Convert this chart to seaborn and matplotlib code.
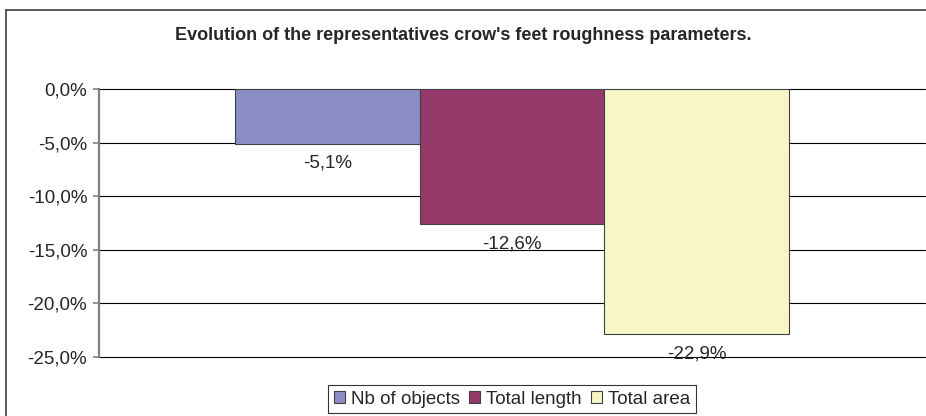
import pandas as pd
import matplotlib.pyplot as plt
import matplotlib.patches as mpatches
from matplotlib.lines import Line2D
from matplotlib.ticker import FuncFormatter
import seaborn as sns

series = ["Nb of objects", "Total length", "Total area"]
values = [-5.1, -12.6, -22.9]
colors = ["#8B8EC5", "#953A6B", "#F8F6C6"]
yticks = [0, -5, -10, -15, -20, -25]

df = pd.DataFrame({"group": [""] * 3, "series": series, "value": values})

sns.set_style("white")
plt.rcParams["font.family"] = ["Liberation Sans", "DejaVu Sans"]

fig = plt.figure(figsize=(9.26, 4.16), dpi=100)
ax = fig.add_axes([99 / 926, 1 - 357 / 416, 826 / 926, 268 / 416])

sns.barplot(data=df, x="group", y="value", hue="series", palette=colors,
            saturation=1, width=0.67, edgecolor="#404040", linewidth=0.8,
            ax=ax, legend=True)

ax.set_ylim(-25, 0)
ax.set_xlim(-0.5, 0.5)
ax.set_yticks(yticks)
ax.yaxis.set_major_formatter(FuncFormatter(lambda v, p: f"{v:.1f}%".replace(".", ",")))
ax.tick_params(axis="y", left=True, right=False, length=4.5, width=1.2, color="#808080",
               labelsize=13.5, pad=4)
ax.set_xlabel("")
ax.set_ylabel("")
ax.set_xticks([])
for yv in yticks:
    ax.axhline(yv, color="black", lw=0.8, zorder=0, clip_on=False)
for s in ["top", "right", "bottom"]:
    ax.spines[s].set_visible(False)
ax.spines["left"].set_color("#808080")
ax.spines["left"].set_linewidth(1.6)
ax.spines["left"].set_zorder(3)

for cont in ax.containers:
    ax.bar_label(cont, labels=[f"{v:.1f}%".replace(".", ",") for v in cont.datavalues],
                 padding=8, fontsize=13.5)

ax.legend_.remove()
handles = [mpatches.Patch(facecolor=c, edgecolor="#404040", lw=0.8) for c in colors]
leg = fig.legend(handles, series, loc="upper center", ncol=3,
                 bbox_to_anchor=(512 / 926, 1 - 385 / 416), fontsize=13.5,
                 frameon=True, fancybox=False, edgecolor="black",
                 handlelength=0.6, handleheight=0.6, handletextpad=0.3,
                 columnspacing=0.5, borderpad=0.3, borderaxespad=0)
leg.get_frame().set_linewidth(0.8)

fig.text(0.5, 1 - 36 / 416, "Evolution of the representatives crow's feet roughness parameters.",
         ha="center", va="center", fontsize=13, fontweight="bold")

# outer chart border (only left and top visible in the reference)
fig.add_artist(Line2D([6 / 926, 6 / 926], [-0.05, 1 - 10 / 416], transform=fig.transFigure,
                      color="#404040", lw=1.2))
fig.add_artist(Line2D([6 / 926, 1.05], [1 - 10 / 416, 1 - 10 / 416], transform=fig.transFigure,
                      color="#404040", lw=1.2))

plt.savefig("out.png", dpi=100)
